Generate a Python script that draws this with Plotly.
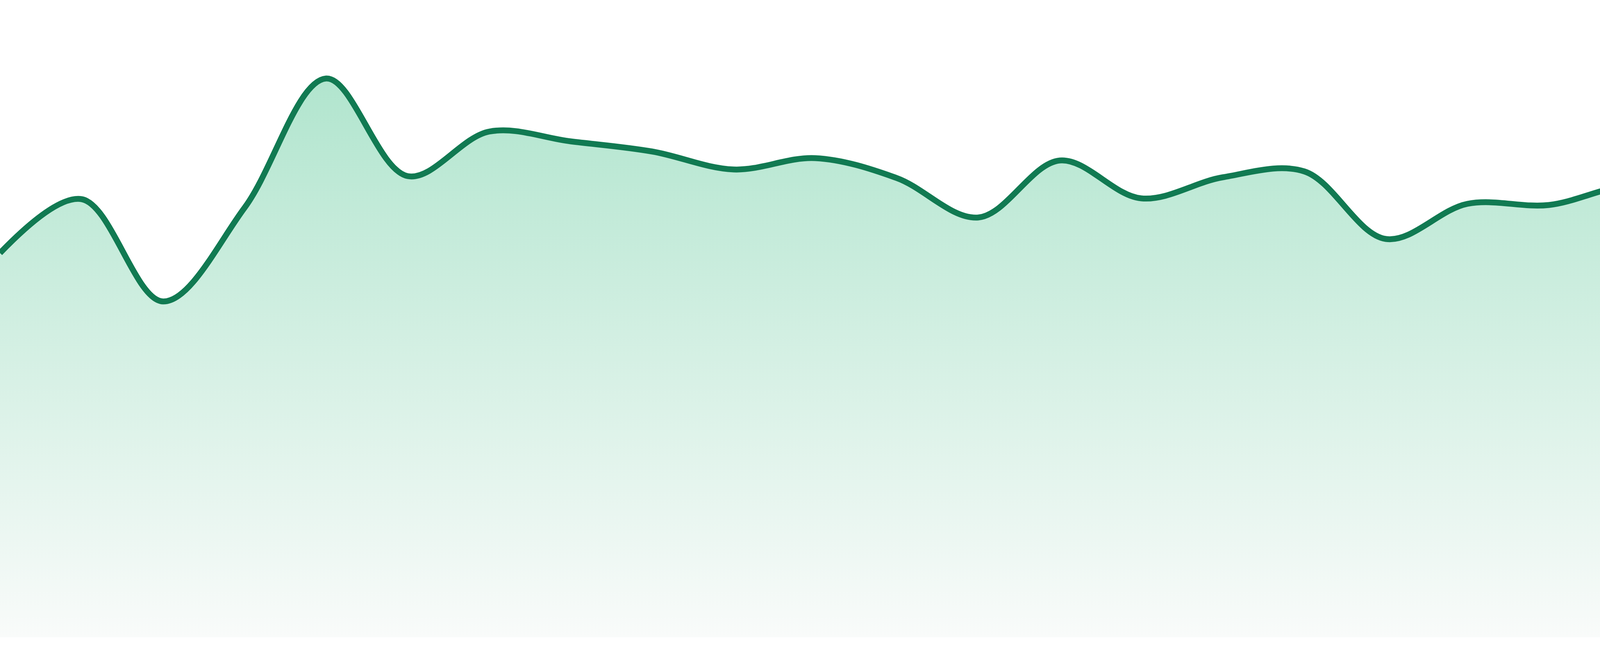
import plotly.graph_objects as go

# one point per step (height above baseline)
steps = list(range(24))
values = [984, 1122, 860, 1100, 1431, 1181, 1295, 1270, 1244, 1198, 1227, 1176,
          1075, 1221, 1124, 1178, 1193, 1020, 1110, 1107, 1157, 1130, 1145, 1106]

line_color = "#117a52"
fill_top = "rgb(177,229,206)"
fill_bottom = "rgb(249,251,250)"

fig = go.Figure(go.Scatter(
    x=steps, y=values,
    mode="lines",
    line=dict(color=line_color, width=15, shape="spline", smoothing=1),
    fill="tozeroy",
    fillgradient=dict(type="vertical", start=0, stop=max(values),
                      colorscale=[[0, fill_bottom], [1, fill_top]]),
    hoverinfo="skip",
))

fig.update_layout(
    width=4800, height=1680,
    margin=dict(l=0, r=0, t=0, b=48),
    paper_bgcolor="white", plot_bgcolor="white",
    showlegend=False,
    xaxis=dict(range=[0, 23], visible=False, fixedrange=True),
    yaxis=dict(range=[0, 1632], visible=False, fixedrange=True),
)

# page body has a default margin, drop it so the chart fills the window
fig.write_html("out.html", config={"displayModeBar": False},
               post_script="document.body.style.margin='0';"
                           "document.body.style.overflow='hidden';")
